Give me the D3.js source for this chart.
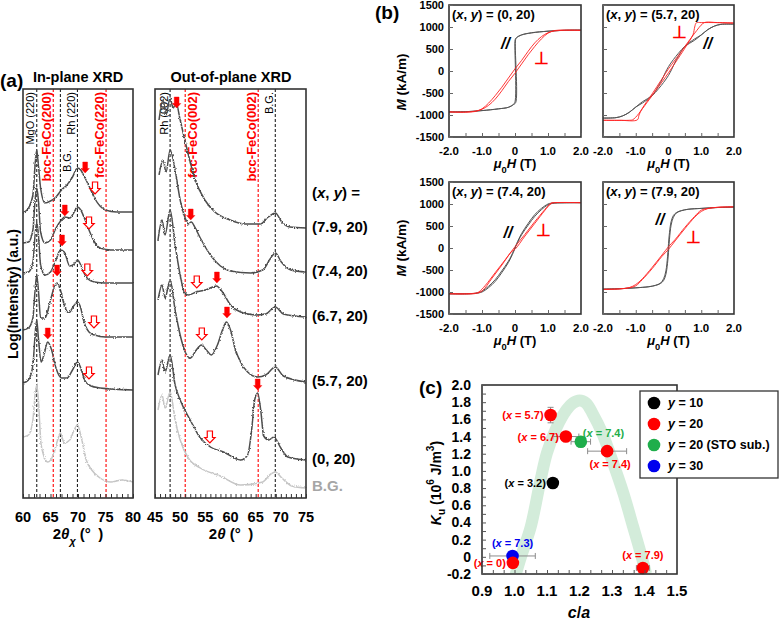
<!DOCTYPE html>
<html><head><meta charset="utf-8">
<script src="https://cdn.jsdelivr.net/npm/d3@7/dist/d3.min.js"></script>
<style>
html,body{margin:0;padding:0;background:#fff;}
svg{display:block;font-family:Arial,"Liberation Sans",Helvetica,sans-serif;}
text{white-space:pre;}
</style></head>
<body><svg width="779" height="621"></svg>
<script>
// ================= DATA =================
// ---- (a) XRD: [2theta (deg), log intensity (a.u., offset)] ----
const ipTickLabels = [60, 65, 70, 75, 80];
const opTickLabels = [45, 50, 55, 60, 65, 70, 75];
const sampleLabels = ["(7.9, 20)", "(7.4, 20)", "(6.7, 20)", "(5.7, 20)", "(0, 20)"];
const bgLabel = "B.G.";

const ip79 = [[60,285],[61,290],[61.8,303],[62.2,333],[62.5,348],[62.8,333],[63.2,310],[64,295],[65,297],[66,301],[67,308],[68,313],[69,321],[69.9,330],[70.5,328],[71,323],[72,312],[73,300],[74,292],[75,288],[77,286],[80,286]];
const ip74 = [[60,255],[61,256],[61.8,268],[62.2,298],[62.5,310],[62.8,298],[63.2,266],[64,255],[65,258],[66,270],[67,278],[67.6,281],[68.5,280],[69.3,286],[69.9,291],[70.5,288],[71,282],[72,268],[73,256],[74,250],[76,248],[80,248]];
const ip67 = [[60,225],[61,226],[61.8,236],[62.2,263],[62.5,276],[62.8,263],[63.2,233],[64,223],[65,226],[66,238],[66.8,248],[67.5,246],[68.5,232],[69.3,234],[69.9,238],[70.5,233],[71,226],[71.8,219],[73,216],[75,215],[80,215]];
const ip57 = [[60,168],[61,170],[61.8,180],[62.2,208],[62.5,223],[62.8,208],[63.2,180],[64,180],[65,198],[65.7,211],[66.2,215],[66.8,208],[67.5,193],[68.3,185],[69.2,192],[69.9,196],[70.5,190],[71,178],[72,166],[73,163],[75,161],[80,161]];
const ip0  = [[60,115],[61,118],[61.8,133],[62.2,163],[62.5,178],[62.8,160],[63.3,136],[63.8,143],[64.5,156],[65.2,148],[66,130],[67,120],[68,120],[69,128],[69.9,136],[70.5,130],[71.2,118],[72,113],[74,110],[80,108]];
const ipBG = [[60,61],[61,63],[61.8,78],[62.2,103],[62.5,113],[62.8,98],[63.3,53],[64.5,36],[65.5,43],[66.3,58],[66.8,65],[67.5,55],[68.5,58],[69.3,68],[69.9,73],[70.5,63],[71.5,38],[72.5,28],[74,20],[76,16],[78,18],[80,16]];

const op79 = [[45.8,378],[46.6,398],[47.2,383],[48,400],[48.6,390],[49.2,395],[50,378],[51.4,348],[53,318],[54.9,298],[56.9,286],[59.9,278],[62.9,274],[65.9,274],[67.5,281],[68.9,285],[70.2,276],[71.8,271],[75,270]];
const op74 = [[45.8,323],[46.6,338],[47.2,326],[48,348],[49,328],[50,298],[51,280],[51.6,274],[52.2,276],[53,270],[54,260],[56,243],[58,232],[60,227],[64,225],[66.4,228],[68,240],[68.9,245],[70.1,236],[72,228],[75,226]];
const op67 = [[45.6,258],[46.4,278],[47,263],[48,288],[49,253],[50,223],[50.8,206],[51.6,203],[53.2,206],[55,208],[56.5,211],[57.2,212],[58.4,206],[60,193],[62,186],[65,183],[67,184],[68.9,191],[70.5,184],[75,181]];
const op57 = [[45.6,198],[46.4,213],[47,200],[48,218],[49,188],[50,163],[51,146],[52,140],[53.2,148],[54.2,153],[55.2,148],[56.2,143],[57.4,153],[58.4,168],[59.2,176],[60,168],[61,148],[62,136],[63.4,126],[65.4,121],[67,123],[68.9,131],[70.5,122],[75,116]];
const op0  = [[45.6,123],[46.4,138],[47,126],[48,143],[49,113],[50,98],[52,78],[54,60],[56,51],[58.6,46],[62,38],[63.4,43],[64.2,68],[64.8,98],[65.4,105],[66,88],[66.6,62],[67.6,58],[68.6,61],[70,50],[71.4,41],[75,38]];
const opBG = [[45.6,88],[46.4,103],[47,90],[48,106],[49,78],[50,58],[51.6,40],[54,30],[58,22],[62,13],[66.4,16],[68,24],[68.9,26],[70.2,20],[72.2,12],[75,10]];

const ipRefDeg   = [62.5, 65.5, 66.8, 69.9, 75.1];
const ipRefNames = ["MgO (220)", "bcc-FeCo(200)", "B.G.", "Rh (220)", "fcc-FeCo(220)"];
const ipRefFilm  = [false, true, false, false, true];
const opRefDeg   = [48.0, 51.0, 65.5, 68.9];
const opRefNames = ["Rh (002)", "fcc-FeCo(002)", "bcc-FeCo(002)", "B.G."];
const opRefFilm  = [false, true, true, false];

// peak markers: [2theta, intensity at arrow tip]
const ipArrowsFilled = [[71.3,325],[67.6,282],[67.1,252],[66.2,222],[64.5,159]];
const ipArrowsOpen   = [[73.1,304],[72.0,269],[71.7,222],[72.9,170],[72.0,119]];
const opArrowsFilled = [[49.3,390],[52.1,278],[57.3,215],[59.3,180],[65.4,108]];
const opArrowsOpen   = [[53.3,210],[54.3,158],[55.9,55]];

// ---- (b) M-H loops: [mu0H (T), M (kA/m)] ----
const mhSamples = ["(0, 20)", "(5.7, 20)", "(7.4, 20)", "(7.9, 20)"];
const mhXTicks = [-2, -1, 0, 1, 2];
const mhYTicks = [-1500, -1000, -500, 0, 500, 1000, 1500];
const par0 = [[2,930],[1.5,925],[1,905],[0.5,865],[0.2,820],[0.05,760],[0.01,720],[0,700],[0,-700],[-0.05,-760],[-0.2,-825],[-0.5,-860],[-1,-900],[-1.5,-925],[-2,-930],
              [-1.5,-925],[-1,-900],[-0.5,-860],[-0.2,-825],[-0.05,-765],[0.02,-720],[0.02,720],[0.05,760],[0.2,820],[0.5,870],[1,905],[1.5,925],[2,930]];
const perp0 = [[2,925],[1.5,925],[1.2,910],[1,870],[0.8,780],[0.6,640],[0.4,450],[0.2,240],[0,50],[-0.2,-160],[-0.4,-370],[-0.6,-560],[-0.8,-730],[-1,-860],[-1.2,-920],[-1.5,-935],[-2,-930],
               [-1.5,-935],[-1.2,-910],[-1,-870],[-0.8,-780],[-0.6,-640],[-0.4,-450],[-0.2,-240],[0,-50],[0.2,160],[0.4,370],[0.6,560],[0.8,730],[1,860],[1.2,920],[1.5,930],[2,925]];
const par57 = [[2,1065],[1.6,1060],[1.4,1020],[1.2,940],[1,820],[0.8,700],[0.5,560],[0.3,400],[0.15,260],[0,100],[-0.1,-40],[-0.2,-200],[-0.3,-330],[-0.5,-560],[-0.8,-730],[-1,-820],[-1.2,-940],[-1.4,-1020],[-1.6,-1060],[-2,-1070],
               [-1.6,-1060],[-1.4,-1020],[-1.2,-940],[-1,-820],[-0.8,-700],[-0.5,-560],[-0.3,-400],[-0.15,-260],[0,-100],[0.1,40],[0.2,200],[0.3,330],[0.5,560],[0.8,730],[1,820],[1.2,940],[1.4,1020],[1.6,1060],[2,1065]];
const perp57 = [[2,1090],[1.5,1100],[1.15,1110],[1.05,1080],[0.8,860],[0.5,560],[0.2,250],[0,50],[-0.2,-180],[-0.5,-520],[-0.8,-850],[-0.9,-1000],[-0.95,-1110],[-1.5,-1120],[-2,-1120],
                [-1.2,-1120],[-1.1,-1110],[-1,-1050],[-0.8,-860],[-0.5,-560],[-0.2,-250],[0,-40],[0.2,180],[0.5,520],[0.75,830],[0.8,1000],[0.85,1095],[1,1100],[1.5,1100],[2,1090]];
const par74 = [[2,1030],[1.5,1025],[1.1,1020],[1,1000],[0.8,900],[0.6,760],[0.4,560],[0.2,330],[0.05,100],[0,0],[-0.05,-80],[-0.2,-300],[-0.4,-520],[-0.6,-720],[-0.8,-870],[-1,-980],[-1.2,-1030],[-2,-1040],
               [-1.2,-1030],[-1,-1000],[-0.8,-900],[-0.6,-760],[-0.4,-560],[-0.2,-330],[-0.05,-100],[0,0],[0.05,80],[0.2,300],[0.4,520],[0.6,720],[0.8,870],[1,980],[1.2,1020],[2,1030]];
const perp74 = [[2,1030],[1.2,1030],[1.1,1020],[1,960],[0.9,870],[0.6,600],[0.3,310],[0,30],[-0.3,-270],[-0.6,-560],[-0.9,-850],[-1.1,-1000],[-1.25,-1030],[-2,-1040],
                [-1.2,-1035],[-1,-980],[-0.7,-690],[-0.4,-390],[-0.1,-80],[0,-30],[0.3,270],[0.6,560],[0.9,850],[1,940],[1.1,1015],[1.2,1030],[2,1030]];
const par79 = [[2,930],[1.5,920],[1,900],[0.6,880],[0.4,850],[0.25,800],[0.15,700],[0.08,520],[0.03,200],[0,-100],[-0.03,-350],[-0.08,-600],[-0.15,-740],[-0.25,-810],[-0.4,-850],[-0.6,-880],[-1,-905],[-1.5,-925],[-2,-935],
               [-1.5,-925],[-1,-905],[-0.6,-880],[-0.4,-850],[-0.25,-800],[-0.15,-700],[-0.08,-520],[-0.03,-200],[0,100],[0.03,350],[0.08,600],[0.15,740],[0.25,810],[0.4,850],[0.6,880],[1,900],[1.5,920],[2,930]];
const perp79 = [[2,935],[1.5,925],[1.2,900],[1,860],[0.8,720],[0.5,470],[0.2,190],[0,30],[-0.2,-160],[-0.5,-440],[-0.8,-700],[-1,-830],[-1.2,-900],[-1.5,-930],[-2,-940],
                [-1.5,-930],[-1.2,-905],[-1,-860],[-0.8,-720],[-0.5,-470],[-0.2,-190],[0,-30],[0.2,160],[0.5,440],[0.8,700],[1,830],[1.2,895],[1.5,925],[2,935]];

// ---- (c) Ku vs c/a ----
const cTicksX = [0.9, 1.0, 1.1, 1.2, 1.3, 1.4, 1.5];
const cTicksY = [-0.2, 0, 0.2, 0.4, 0.6, 0.8, 1.0, 1.2, 1.4, 1.6, 1.8, 2.0];
const legendLabels = ["y = 10", "y = 20", "y = 20 (STO sub.)", "y = 30"];
const caY10 = [1.118], kuY10 = [0.86], caErrY10 = [0.012], kuErrY10 = [0.03], xY10 = ["3.2"];
const caY20 = [1.111, 1.158, 1.285, 1.395, 0.995], kuY20 = [1.65, 1.40, 1.23, -0.13, -0.07];
const caErrY20 = [0.015, 0.04, 0.06, 0.02, 0.012], kuErrY20 = [0.09, 0.02, 0.03, 0.02, 0.02], xY20 = ["5.7", "6.7", "7.4", "7.9", "0"];
const caSTO = [1.204], kuSTO = [1.34], caErrSTO = [0.03], kuErrSTO = [0.06], xSTO = ["7.4"];
const caY30 = [0.994], kuY30 = [0.01], caErrY30 = [0.07], kuErrY30 = [0.02], xY30 = ["7.3"];
const guideCa = [1.0, 1.02, 1.05, 1.08, 1.10, 1.13, 1.16, 1.18, 1.20, 1.22, 1.24, 1.27, 1.30, 1.335, 1.365, 1.39, 1.405];
const guideKu = [-0.25, 0.0, 0.35, 0.89, 1.21, 1.51, 1.71, 1.79, 1.82, 1.79, 1.67, 1.44, 1.13, 0.74, 0.35, 0.02, -0.2];

// ================= DRAWING =================
const svg = d3.select("svg");
const defs = svg.append("defs");
const nf = defs.append("filter").attr("id","noisy").attr("x","-2%").attr("y","-10%").attr("width","104%").attr("height","120%");
nf.append("feTurbulence").attr("type","fractalNoise").attr("baseFrequency","0.9 0.6").attr("numOctaves",1).attr("seed",7).attr("result","n");
nf.append("feDisplacementMap").attr("in","SourceGraphic").attr("in2","n").attr("scale",3).attr("xChannelSelector","R").attr("yChannelSelector","G");

function rich(g, x, y, parts, o = {}) {
  const size = o.size || 12;
  const t = g.append("text").attr("x", x).attr("y", y).attr("font-size", size)
    .attr("font-weight", o.weight || "bold").attr("fill", o.fill || "#000")
    .attr("text-anchor", o.anchor || "start");
  if (o.rotate) t.attr("transform", `rotate(${o.rotate},${x},${y})`);
  if (o.baseline) t.attr("dominant-baseline", o.baseline);
  parts.forEach(p => {
    const s = typeof p === "string" ? { t: p } : p;
    const ts = t.append("tspan").text(s.t);
    if (s.i) ts.attr("font-style", "italic");
    if (s.sub) ts.attr("baseline-shift", "sub").attr("font-size", size * 0.72);
    if (s.sup) ts.attr("baseline-shift", "super").attr("font-size", size * 0.72);
  });
  return t;
}

function downArrow(g, cx, tipY, filled) {
  const sw = filled ? 2.4 : 2.6, hw = filled ? 4.2 : 5.2, h = filled ? 11 : 12, hh = filled ? 4.5 : 5.5;
  const pts = [[cx - sw, tipY - h], [cx + sw, tipY - h], [cx + sw, tipY - hh], [cx + hw, tipY - hh], [cx, tipY], [cx - hw, tipY - hh], [cx - sw, tipY - hh]];
  g.append("polygon").attr("points", pts.map(p => p.join(",")).join(" "))
    .attr("fill", filled ? "#ff0000" : "#fff").attr("stroke", "#ff0000").attr("stroke-width", filled ? 0.4 : 1.2);
}

// ---------- (a) ----------
const AY0 = 89, AY1 = 498;
function xrdPanel(x0, x1, dom, curves, bg, refDeg, refNames, refFilm, sides, topOff, aF, aO, ticks) {
  const x = d3.scaleLinear().domain(dom).range([x0, x1]);
  const y = d3.scaleLinear().domain([0, 409]).range([AY1, AY0]);
  const g = svg.append("g");
  refDeg.forEach((d, i) => {
    const film = refFilm[i];
    g.append("line").attr("x1", x(d)).attr("x2", x(d)).attr("y1", AY0).attr("y2", AY1)
      .attr("stroke", film ? "#ff0000" : "#222").attr("stroke-width", 1.1).attr("stroke-dasharray", "3,2");
    const fs = film ? 13 : 11;
    const bx = sides[i] === "L" ? x(d) - 2.5 : x(d) + 2 + fs * 0.74;
    const by = AY0 + 3 + topOff[i];
    rich(g, bx, by, [refNames[i]], { size: fs, weight: film ? "bold" : "normal", fill: film ? "#ff0000" : "#000", anchor: "end", rotate: -90 });
  });
  const line = d3.line().x(d => x(d[0])).y(d => y(d[1])).curve(d3.curveMonotoneX);
  const cg = g.append("g").attr("filter", "url(#noisy)");
  cg.append("path").datum(bg).attr("d", line).attr("fill", "none").attr("stroke", "#c6c6c6").attr("stroke-width", 1.5);
  curves.forEach(c => cg.append("path").datum(c).attr("d", line).attr("fill", "none").attr("stroke", "#4d4d4d").attr("stroke-width", 1.5));
  aF.forEach(a => downArrow(g, x(a[0]), y(a[1]), true));
  aO.forEach(a => downArrow(g, x(a[0]), y(a[1]), false));
  g.append("rect").attr("x", x0).attr("y", AY0).attr("width", x1 - x0).attr("height", AY1 - AY0)
    .attr("fill", "none").attr("stroke", "#333").attr("stroke-width", 1.6);
  const minor = d3.range(dom[0], dom[1] + 0.01, 1);
  const ax = g.append("g").attr("transform", `translate(0,${AY1})`)
    .call(d3.axisBottom(x).tickValues(minor).tickSize(-4).tickFormat(""));
  ax.select(".domain").remove();
  ax.selectAll("line").attr("stroke", "#333").attr("stroke-width", 1);
  ticks.forEach(t => rich(g, x(t), 522, [String(t)], { size: 14.5, anchor: "middle" }));
  return { x, y };
}
const aL = xrdPanel(23, 133, [60, 80], [ip79, ip74, ip67, ip57, ip0], ipBG, ipRefDeg, ipRefNames, ipRefFilm,
  ["L", "L", "R", "L", "L"], [0, 0, 58, 0, 0], ipArrowsFilled, ipArrowsOpen, ipTickLabels);
const aR = xrdPanel(155, 306, [45, 75], [op79, op74, op67, op57, op0], opBG, opRefDeg, opRefNames, opRefFilm,
  ["L", "R", "L", "L"], [0, 0, 0, 0], opArrowsFilled, opArrowsOpen, opTickLabels);

rich(svg, 0, 87, ["(a)"], { size: 19 });
rich(svg, 78, 82, ["In-plane XRD"], { size: 14.5, anchor: "middle" });
rich(svg, 231, 82, ["Out-of-plane XRD"], { size: 14.5, anchor: "middle" });
rich(svg, 78, 539, ["2", { t: "θ", i: true }, { t: "χ", i: true, sub: true }, " (°\u2002)"], { size: 15, anchor: "middle" });
rich(svg, 231, 539, ["2", { t: "θ", i: true }, " (°\u2002)"], { size: 15, anchor: "middle" });
rich(svg, 13, 294, ["Log(Intensity) (a.u.)"], { size: 14, anchor: "middle", rotate: -90, baseline: "central" });
rich(svg, 312, 198, ["(", { t: "x", i: true }, ", ", { t: "y", i: true }, ") ="], { size: 15 });
[op79, op74, op67, op57, op0].forEach((c, i) => rich(svg, 312, aR.y(c[c.length - 1][1]) + 4, [sampleLabels[i]], { size: 15 }));
rich(svg, 312, aR.y(opBG[opBG.length - 1][1]) + 3, [bgLabel], { size: 15, fill: "#a6a6a6" });

// ---------- (b) ----------
const bFrames = [
  { x0: 449, x1: 581, y0: 5, y1: 137 }, { x0: 603, x1: 734, y0: 5, y1: 137 },
  { x0: 449, x1: 581, y0: 182, y1: 314 }, { x0: 603, x1: 734, y0: 182, y1: 314 }];
const bLoops = [[par0, perp0], [par57, perp57], [par74, perp74], [par79, perp79]];
const bParAt = [[-0.29, 640], [1.2, 630], [-0.21, 370], [-0.26, 670]];
const bPerpAt = [[0.8, 300], [0.35, 880], [0.86, 410], [0.75, 240]];
bFrames.forEach((f, k) => {
  const x = d3.scaleLinear().domain([-2, 2]).range([f.x0, f.x1]);
  const y = d3.scaleLinear().domain([-1500, 1500]).range([f.y1, f.y0]);
  const g = svg.append("g");
  const line = d3.line().x(d => x(d[0])).y(d => y(d[1])).curve(d3.curveCatmullRom.alpha(0.5));
  g.append("path").datum(bLoops[k][0]).attr("d", line).attr("fill", "none").attr("stroke", "#555").attr("stroke-width", 1);
  g.append("path").datum(bLoops[k][1]).attr("d", line).attr("fill", "none").attr("stroke", "#ff2020").attr("stroke-width", 0.9);
  g.append("rect").attr("x", f.x0).attr("y", f.y0).attr("width", f.x1 - f.x0).attr("height", f.y1 - f.y0)
    .attr("fill", "none").attr("stroke", "#333").attr("stroke-width", 1.6);
  const ax = g.append("g").attr("transform", `translate(0,${f.y1})`)
    .call(d3.axisBottom(x).tickValues(d3.range(-2, 2.01, 0.5)).tickSize(-4).tickFormat(""));
  const ay = g.append("g").attr("transform", `translate(${f.x0},0)`)
    .call(d3.axisLeft(y).tickValues(mhYTicks).tickSize(-4).tickFormat(""));
  [ax, ay].forEach(a => { a.select(".domain").remove(); a.selectAll("line").attr("stroke", "#666"); });
  mhXTicks.forEach(t => rich(g, x(t), f.y1 + 18, [t === 0 ? "0" : t.toFixed(1)], { size: 11.5, anchor: "middle" }));
  if (k % 2 === 0) mhYTicks.forEach(t => rich(g, f.x0 - 5, y(t), [String(t)], { size: 11, anchor: "end", baseline: "central" }));
  rich(g, (f.x0 + f.x1) / 2, f.y1 + 31, [{ t: "μ", i: true }, { t: "0", sub: true }, { t: "H", i: true }, " (T)"], { size: 13, anchor: "middle" });
  if (k % 2 === 0) rich(g, 401, k === 0 ? 82 : 248, [{ t: "M", i: true }, " (kA/m)"], { size: 13.5, anchor: "middle", rotate: -90, baseline: "central" });
  rich(g, f.x0 + 3, f.y0 + 14, ["(", { t: "x", i: true }, ", ", { t: "y", i: true }, ") = " + mhSamples[k]], { size: 13 });
  rich(g, x(bParAt[k][0]), y(bParAt[k][1]), [{ t: "//", i: true }], { size: 16, anchor: "middle", baseline: "central" });
  rich(g, x(bPerpAt[k][0]), y(bPerpAt[k][1]), ["⊥"], { size: 17, anchor: "middle", baseline: "central", fill: "#ff0000" });
});
rich(svg, 375, 19, ["(b)"], { size: 19 });

// ---------- (c) ----------
const cx = d3.scaleLinear().domain([0.9, 1.5]).range([482, 677]);
const cy = d3.scaleLinear().domain([-0.2, 2.0]).range([574, 385]);
const gc = svg.append("g");
defs.append("clipPath").attr("id", "cclip").append("rect").attr("x", 482).attr("y", 385).attr("width", 195).attr("height", 189);
gc.append("path").datum(d3.zip(guideCa, guideKu)).attr("clip-path", "url(#cclip)")
  .attr("d", d3.line().x(d => cx(d[0])).y(d => cy(d[1])).curve(d3.curveCatmullRom.alpha(0.5)))
  .attr("fill", "none").attr("stroke", "#d3ecda").attr("stroke-width", 12);
const groups = [
  { ca: caY10, ku: kuY10, ex: caErrY10, ey: kuErrY10, lab: xY10, color: "#000000", place: ["L"] },
  { ca: caY20, ku: kuY20, ex: caErrY20, ey: kuErrY20, lab: xY20, color: "#ff0000", place: ["L", "L", "B", "T", "L"] },
  { ca: caSTO, ku: kuSTO, ex: caErrSTO, ey: kuErrSTO, lab: xSTO, color: "#1fae4b", place: ["TR"] },
  { ca: caY30, ku: kuY30, ex: caErrY30, ey: kuErrY30, lab: xY30, color: "#0000ee", place: ["T"] }];
[groups[3], groups[0], groups[1], groups[2]].forEach(G => {
  G.ca.forEach((c, i) => {
    const px = cx(c), py = cy(G.ku[i]);
    const eg = gc.append("g").attr("stroke", "#8c8c8c").attr("stroke-width", 1);
    eg.append("line").attr("x1", cx(c - G.ex[i])).attr("x2", cx(c + G.ex[i])).attr("y1", py).attr("y2", py);
    eg.append("line").attr("x1", cx(c - G.ex[i])).attr("x2", cx(c - G.ex[i])).attr("y1", py - 3).attr("y2", py + 3);
    eg.append("line").attr("x1", cx(c + G.ex[i])).attr("x2", cx(c + G.ex[i])).attr("y1", py - 3).attr("y2", py + 3);
    eg.append("line").attr("x1", px).attr("x2", px).attr("y1", cy(G.ku[i] - G.ey[i])).attr("y2", cy(G.ku[i] + G.ey[i]));
    eg.append("line").attr("x1", px - 3).attr("x2", px + 3).attr("y1", cy(G.ku[i] - G.ey[i])).attr("y2", cy(G.ku[i] - G.ey[i]));
    eg.append("line").attr("x1", px - 3).attr("x2", px + 3).attr("y1", cy(G.ku[i] + G.ey[i])).attr("y2", cy(G.ku[i] + G.ey[i]));
  });
});
[groups[3], groups[0], groups[1], groups[2]].forEach(G => {
  G.ca.forEach((c, i) => {
    const px = cx(c), py = cy(G.ku[i]);
    gc.append("circle").attr("cx", px).attr("cy", py).attr("r", 6.3).attr("fill", G.color);
    const parts = ["(", { t: "x", i: true }, " = " + G.lab[i] + ")"];
    const o = { size: 11, fill: G.color };
    const p = G.place[i];
    if (p === "L") rich(gc, px - 7, py + 4, parts, { ...o, anchor: "end" });
    else if (p === "T") rich(gc, px, py - 9, parts, { ...o, anchor: "middle" });
    else if (p === "B") rich(gc, px + 3, py + 17, parts, { ...o, anchor: "middle" });
    else rich(gc, px + 2, py - 5, parts, { ...o, anchor: "start" });
  });
});
gc.append("rect").attr("x", 482).attr("y", 385).attr("width", 195).attr("height", 189)
  .attr("fill", "none").attr("stroke", "#333").attr("stroke-width", 1.6);
const cax = gc.append("g").attr("transform", "translate(0,574)")
  .call(d3.axisBottom(cx).tickValues(d3.range(0, 19).map(i => 0.9 + i * 0.1 / 3)).tickSize(-4).tickFormat(""));
const cay = gc.append("g").attr("transform", "translate(482,0)")
  .call(d3.axisLeft(cy).tickValues(d3.range(0, 23).map(i => -0.2 + i * 0.1)).tickSize(-4).tickFormat(""));
[cax, cay].forEach(a => { a.select(".domain").remove(); a.selectAll("line").attr("stroke", "#555"); });
cTicksX.forEach(t => rich(gc, cx(t), 596, [t.toFixed(1)], { size: 15, anchor: "middle" }));
cTicksY.forEach(t => rich(gc, 471, cy(t), [Math.abs(t) < 1e-9 ? "0" : t.toFixed(1)], { size: 14, anchor: "end", baseline: "central" }));
rich(gc, 579, 618, [{ t: "c", i: true }, "/", { t: "a", i: true }], { size: 16, anchor: "middle" });
rich(gc, 436, 483, [{ t: "K", i: true }, { t: "u", sub: true }, " (10", { t: "6", sup: true }, " J/m", { t: "3", sup: true }, ")"], { size: 14, anchor: "middle", rotate: -90, baseline: "central" });
rich(svg, 419, 394, ["(c)"], { size: 19 });
// legend
const lg = svg.append("g");
lg.append("rect").attr("x", 640).attr("y", 391).attr("width", 138).attr("height", 87).attr("fill", "#fff").attr("stroke", "#333").attr("stroke-width", 1.3);
groups.forEach((G, i) => {
  const yy = 403 + i * 21;
  lg.append("circle").attr("cx", 654).attr("cy", yy).attr("r", 6.3).attr("fill", G.color);
  const lab = legendLabels[i];
  rich(lg, 668, yy, [{ t: "y", i: true }, lab.slice(1)], { size: 12.5, baseline: "central" });
});
</script></body></html>
